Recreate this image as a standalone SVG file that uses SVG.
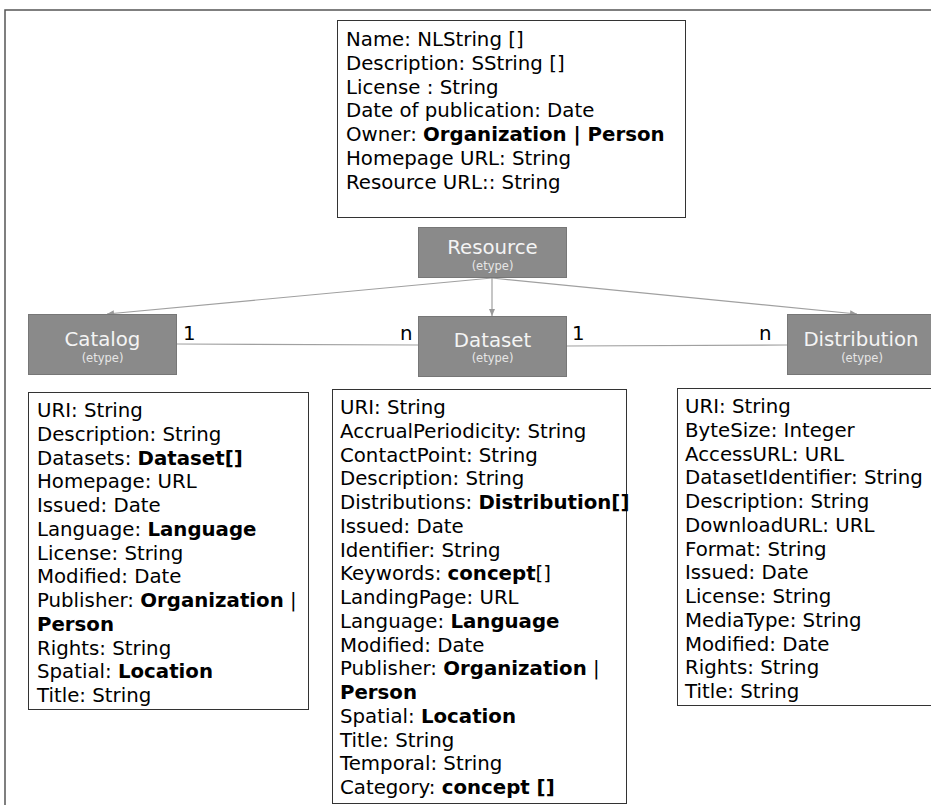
<svg xmlns="http://www.w3.org/2000/svg" width="931" height="805" viewBox="0 0 931 805">
<style>
.t{font-family:"DejaVu Sans",sans-serif;font-size:19.75px;fill:#000}
.b{font-weight:bold}
.box{fill:#fff;stroke:#333;stroke-width:1}
.node{fill:#8a8a8a;stroke:#777;stroke-width:1}
.nl{font-family:"DejaVu Sans",sans-serif;font-size:19.75px;fill:#f4f4f4;text-anchor:middle}
.ne{font-family:"DejaVu Sans",sans-serif;font-size:11.5px;fill:#e6e6e6;text-anchor:middle}
.c{stroke:#a0a0a0;stroke-width:1.2;fill:none}
</style>
<defs>
<marker id="ah" markerWidth="8" markerHeight="8" refX="7" refY="4" orient="auto" markerUnits="userSpaceOnUse">
<path d="M0,1 L7,4 L0,7 z" fill="#999"/>
</marker>
</defs>
<rect x="5" y="10" width="940" height="810" fill="#fff" stroke="#555" stroke-width="1.5"/>

<g id="resource-attrs">
<rect class="box" x="337.5" y="20.5" width="348" height="197"/>
<text class="t" x="346" y="46">Name: NLString []</text>
<text class="t" x="346" y="69.75">Description: SString []</text>
<text class="t" x="346" y="93.5">License : String</text>
<text class="t" x="346" y="117.25">Date of publication: Date</text>
<text class="t" x="346" y="141">Owner: <tspan class="b">Organization | Person</tspan></text>
<text class="t" x="346" y="164.75">Homepage URL: String</text>
<text class="t" x="346" y="188.5">Resource URL:: String</text>
</g>

<g id="connectors">
<line class="c" x1="492" y1="278" x2="107" y2="314" marker-end="url(#ah)"/>
<line class="c" x1="492" y1="278" x2="492" y2="316" marker-end="url(#ah)"/>
<line class="c" x1="492" y1="278" x2="857" y2="314" marker-end="url(#ah)"/>
<line class="c" x1="177" y1="344" x2="418" y2="345"/>
<line class="c" x1="567" y1="346" x2="787" y2="345"/>
<text class="t" x="183" y="340">1</text>
<text class="t" x="400" y="340">n</text>
<text class="t" x="572" y="340">1</text>
<text class="t" x="759" y="340">n</text>
</g>

<g id="resource">
<rect class="node" x="418.5" y="227.5" width="148" height="50"/>
<text class="nl" x="492.5" y="254">Resource</text>
<text class="ne" x="492.5" y="270">(etype)</text>
</g>

<g id="catalog">
<rect class="node" x="28.5" y="314.5" width="148" height="60"/>
<text class="nl" x="102.5" y="346">Catalog</text>
<text class="ne" x="102.5" y="362">(etype)</text>
</g>

<g id="dataset">
<rect class="node" x="418.5" y="316.5" width="148" height="60"/>
<text class="nl" x="492.5" y="347">Dataset</text>
<text class="ne" x="492.5" y="362">(etype)</text>
</g>

<g id="distribution">
<rect class="node" x="787.5" y="314.5" width="148" height="60"/>
<text class="nl" x="861" y="346">Distribution</text>
<text class="ne" x="862" y="362">(etype)</text>
</g>

<g id="catalog-attrs">
<rect class="box" x="28.5" y="392.5" width="280" height="317"/>
<text class="t" x="37" y="417">URI: String</text>
<text class="t" x="37" y="440.75">Description: String</text>
<text class="t" x="37" y="464.5">Datasets: <tspan class="b">Dataset[]</tspan></text>
<text class="t" x="37" y="488.25">Homepage: URL</text>
<text class="t" x="37" y="512">Issued: Date</text>
<text class="t" x="37" y="535.75">Language: <tspan class="b">Language</tspan></text>
<text class="t" x="37" y="559.5">License: String</text>
<text class="t" x="37" y="583.25">Modified: Date</text>
<text class="t" x="37" y="607">Publisher: <tspan class="b">Organization</tspan> |</text>
<text class="t b" x="37" y="630.75">Person</text>
<text class="t" x="37" y="654.5">Rights: String</text>
<text class="t" x="37" y="678.25">Spatial: <tspan class="b">Location</tspan></text>
<text class="t" x="37" y="702">Title: String</text>
</g>

<g id="dataset-attrs">
<rect class="box" x="332.5" y="389.5" width="294" height="414"/>
<text class="t" x="340" y="414">URI: String</text>
<text class="t" x="340" y="437.75">AccrualPeriodicity: String</text>
<text class="t" x="340" y="461.5">ContactPoint: String</text>
<text class="t" x="340" y="485.25">Description: String</text>
<text class="t" x="340" y="509">Distributions: <tspan class="b">Distribution[]</tspan></text>
<text class="t" x="340" y="532.75">Issued: Date</text>
<text class="t" x="340" y="556.5">Identifier: String</text>
<text class="t" x="340" y="580.25">Keywords: <tspan class="b">concept</tspan>[]</text>
<text class="t" x="340" y="604">LandingPage: URL</text>
<text class="t" x="340" y="627.75">Language: <tspan class="b">Language</tspan></text>
<text class="t" x="340" y="651.5">Modified: Date</text>
<text class="t" x="340" y="675.25">Publisher: <tspan class="b">Organization</tspan> |</text>
<text class="t b" x="340" y="699">Person</text>
<text class="t" x="340" y="722.75">Spatial: <tspan class="b">Location</tspan></text>
<text class="t" x="340" y="746.5">Title: String</text>
<text class="t" x="340" y="770.25">Temporal: String</text>
<text class="t" x="340" y="794">Category: <tspan class="b">concept []</tspan></text>
</g>

<g id="distribution-attrs">
<rect class="box" x="677.5" y="388.5" width="270" height="317"/>
<text class="t" x="685" y="413">URI: String</text>
<text class="t" x="685" y="436.75">ByteSize: Integer</text>
<text class="t" x="685" y="460.5">AccessURL: URL</text>
<text class="t" x="685" y="484.25">DatasetIdentifier: String</text>
<text class="t" x="685" y="508">Description: String</text>
<text class="t" x="685" y="531.75">DownloadURL: URL</text>
<text class="t" x="685" y="555.5">Format: String</text>
<text class="t" x="685" y="579.25">Issued: Date</text>
<text class="t" x="685" y="603">License: String</text>
<text class="t" x="685" y="626.75">MediaType: String</text>
<text class="t" x="685" y="650.5">Modified: Date</text>
<text class="t" x="685" y="674.25">Rights: String</text>
<text class="t" x="685" y="698">Title: String</text>
</g>
</svg>
